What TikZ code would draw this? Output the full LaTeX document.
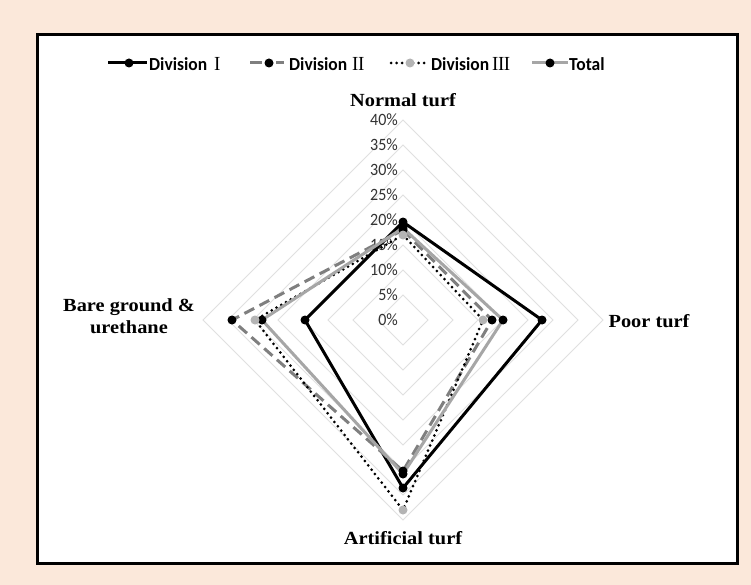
\documentclass[tikz,border=0pt]{standalone}
\usepackage{fontspec}
\setmainfont{Liberation Serif}
\newfontfamily\calib{Carlito}
\definecolor{bgpeach}{HTML}{FBE8DA}
\definecolor{gridc}{HTML}{E0E0E0}
\definecolor{darkg}{HTML}{7F7F7F}
\definecolor{lightg}{HTML}{A6A6A6}
\definecolor{dotg}{HTML}{B4B4B4}
\definecolor{tickc}{HTML}{333333}
\tikzset{
  gridline/.style={draw=gridc, line width=1pt},
  ticklbl/.style={font=\calib\fontsize{16}{16}\selectfont, text=tickc, anchor=east, inner sep=0pt, yscale=1.08},
  catlbl/.style={font=\bfseries\fontsize{18.5}{22}\selectfont, xscale=1.1, align=center, inner sep=0pt},
  legtxt/.style={font=\calib\bfseries\fontsize{17.5}{17.5}\selectfont, anchor=west, inner sep=0pt, yscale=1.05},
  serI/.style={draw=black, line width=3pt, line join=round},
  serII/.style={draw=darkg, line width=3pt, dash pattern=on 11pt off 6pt, line join=round},
  serIII/.style={draw=black, line width=3pt, dash pattern=on 0pt off 5.5pt, line cap=round},
  serT/.style={draw=lightg, line width=3pt, line join=round},
  mk/.style={circle, fill=black, minimum size=9pt, inner sep=0pt},
  mkg/.style={circle, fill=dotg, minimum size=9pt, inner sep=0pt}
}
\newcommand{\rnum}[1]{{\rmfamily\mdseries\fontsize{19}{19}\selectfont #1}}
\begin{document}
\begin{tikzpicture}[x=1pt,y=-1pt]
\fill[bgpeach] (0,0) rectangle (751,585);
\useasboundingbox (0,0) rectangle (751,585);
\draw[line width=3pt, fill=white] (37,35) rectangle (737,563);
% grid
\foreach \k in {1,...,8}
  \draw[gridline] (403,{320-25*\k}) -- ({403+25*\k},320) -- (403,{320+25*\k}) -- ({403-25*\k},320) -- cycle;
% tick labels
\foreach \k [evaluate=\k as \v using int(5*\k)] in {0,...,8}
  \node[ticklbl] (t\k) at (398,{320-25*\k}) {\v\%};
% category labels
\node[catlbl] (cN) at (403,100) {Normal turf};
\node[catlbl] (cP) at (649,321) {Poor turf};
\node[catlbl] (cB) at (129,316) {Bare ground \&\\urethane};
\node[catlbl] (cA) at (403,538) {Artificial turf};
% data: N P A B
\coordinate (aN) at (403,{320-5*19.6});
\coordinate (aP) at ({403+5*27.8},320);
\coordinate (aA) at (403,{320+5*33.6});
\coordinate (aB) at ({403-5*19.6},320);
\coordinate (bN) at (403,{320-5*18});
\coordinate (bP) at ({403+5*17.8},320);
\coordinate (bA) at (403,{320+5*30.2});
\coordinate (bB) at ({403-5*34.2},320);
\coordinate (cN2) at (403,{320-5*17});
\coordinate (cP2) at ({403+5*16},320);
\coordinate (cA2) at (403,{320+5*38});
\coordinate (cB2) at ({403-5*29.6},320);
\coordinate (dN) at (403,{320-5*18.4});
\coordinate (dP) at ({403+5*20},320);
\coordinate (dA) at (403,{320+5*30.8});
\coordinate (dB) at ({403-5*28.2},320);
\draw[serI] (aN) -- (aP) -- (aA) -- (aB) -- cycle;
\draw[serII] (bN) -- (bP) -- (bA) -- (bB) -- cycle;
\draw[serIII] (cN2) -- (cP2) -- (cA2) -- (cB2) -- cycle;
\draw[serT] (dN) -- (dP) -- (dA) -- (dB) -- cycle;
\foreach \p in {aN,aP,aA,aB,bN,bP,bA,bB,dN,dP,dA,dB}
  \node[mk] (m-\p) at (\p) {};
\foreach \p in {cN2,cP2,cA2,cB2}
  \node[mkg] (m-\p) at (\p) {};
% legend
\coordinate (l1a) at (108,63); \coordinate (l1b) at (147,63);
\draw[serI] (l1a) -- (l1b); \node[mk] (lm1) at (129,63) {};
\node[legtxt] (lt1) at (149,64) {Division\hspace{7pt}\rnum{I}};
\coordinate (l2a) at (250,63); \coordinate (l2b) at (284,63);
\draw[draw=darkg, line width=3pt] (l2a) -- (262,63) (276,63) -- (l2b); \node[mk] (lm2) at (269,63) {};
\node[legtxt] (lt2) at (289,64) {Division\hspace{5pt}\rnum{I\kern-0.5ptI}};
\coordinate (l3a) at (391,63); \coordinate (l3b) at (426,63);
\draw[serIII] (l3a) -- (l3b); \node[mkg] (lm3) at (410,63) {};
\node[legtxt] (lt3) at (431,64) {Division\hspace{3pt}\rnum{I\kern-0.5ptI\kern-0.5ptI}};
\coordinate (l4a) at (532,63); \coordinate (l4b) at (568,63);
\draw[serT] (l4a) -- (l4b); \node[mk] (lm4) at (550,63) {};
\node[legtxt] (lt4) at (569,64) {Total};
\end{tikzpicture}
\end{document}
